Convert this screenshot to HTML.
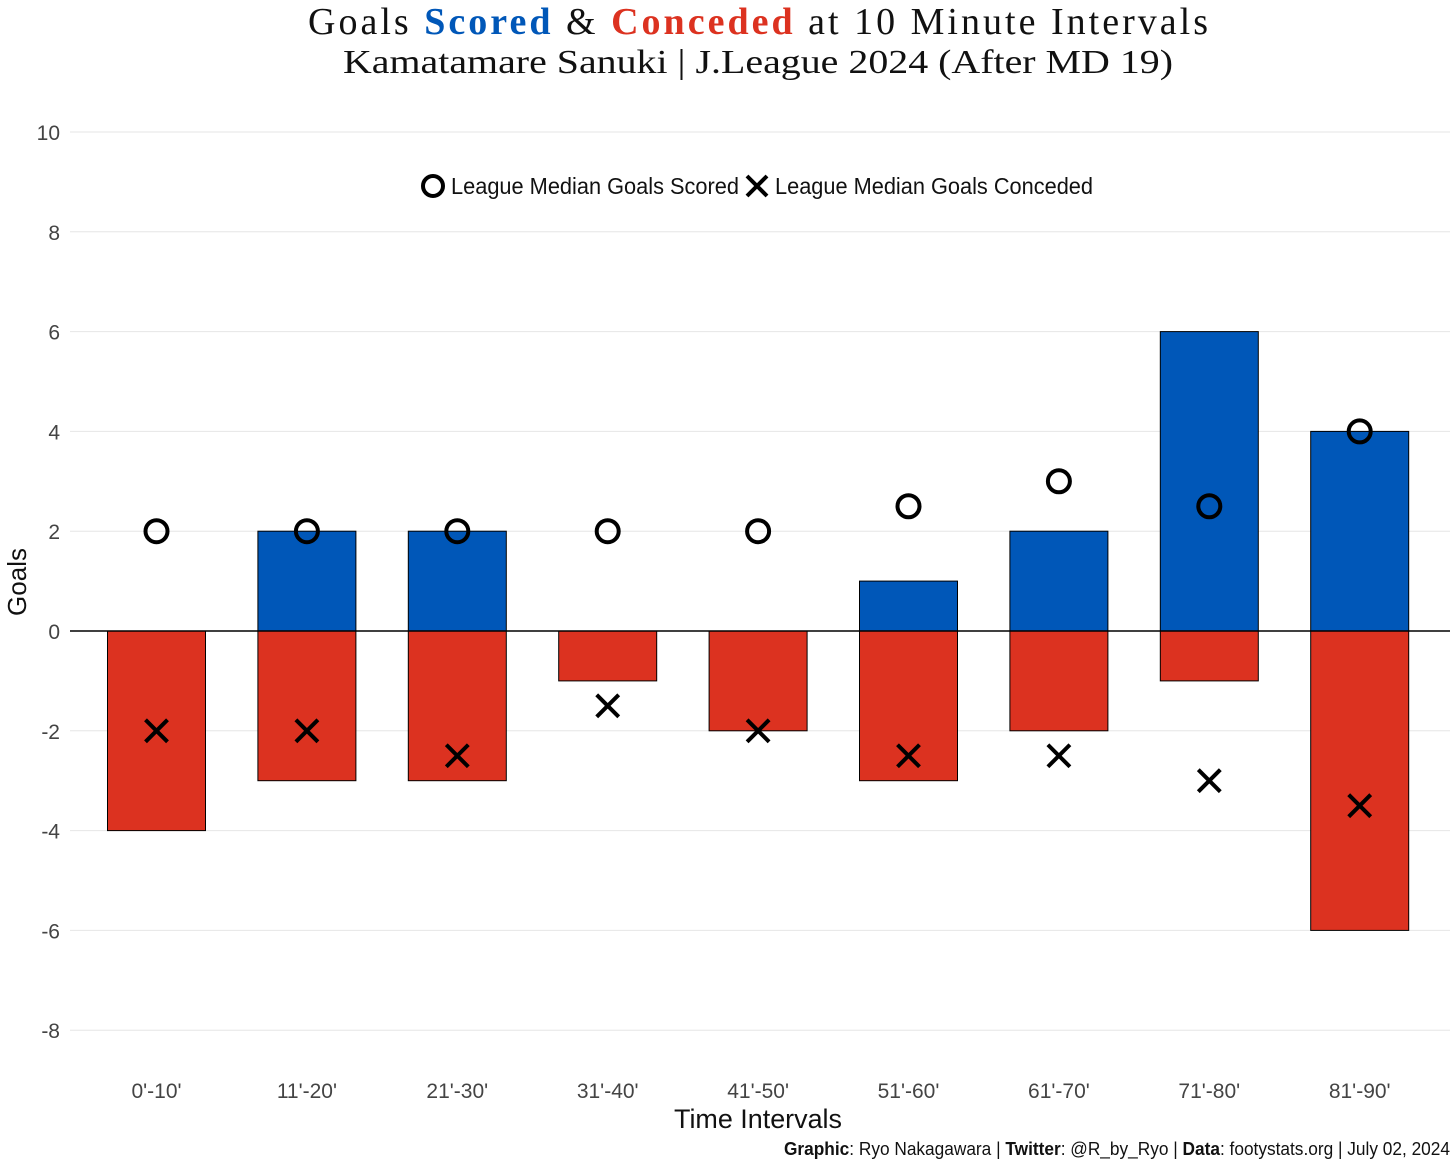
<!DOCTYPE html>
<html><head><meta charset="utf-8"><style>
html,body{margin:0;padding:0;background:#fff;}
svg{display:block;}
</style></head><body>
<svg id="chart" width="1456" height="1165" viewBox="0 0 1456 1165" xmlns="http://www.w3.org/2000/svg">
<text x="308" y="34" font-family="Liberation Serif, serif" font-size="38" fill="#111" textLength="900" lengthAdjust="spacing">Goals <tspan fill="#0057b8" font-weight="bold">Scored</tspan> &amp; <tspan fill="#dc3220" font-weight="bold">Conceded</tspan> at 10 Minute Intervals</text>
<text x="343" y="73" font-family="Liberation Serif, serif" font-size="34" fill="#111" textLength="830" lengthAdjust="spacingAndGlyphs">Kamatamare Sanuki | J.League 2024 (After MD 19)</text>
<g id="grid"></g>
<g id="bars"></g>
<g id="marks"></g>
<g>
<circle cx="433" cy="186" r="10" fill="none" stroke="#000" stroke-width="4"/>
<text x="451" y="194" font-family="Liberation Sans, sans-serif" font-size="23" fill="#111" textLength="288" lengthAdjust="spacingAndGlyphs">League Median Goals Scored</text>
<path d="M747 176 L767 196 M767 176 L747 196" stroke="#000" stroke-width="4"/>
<text x="775" y="194" font-family="Liberation Sans, sans-serif" font-size="23" fill="#111" textLength="318" lengthAdjust="spacingAndGlyphs">League Median Goals Conceded</text>
</g>
<text x="18" y="582" transform="rotate(-90 18 582)" text-anchor="middle" dy="8" font-family="Liberation Sans, sans-serif" font-size="26" fill="#111">Goals</text>
<text x="758" y="1128" text-anchor="middle" font-family="Liberation Sans, sans-serif" font-size="27" fill="#111" textLength="168" lengthAdjust="spacingAndGlyphs">Time Intervals</text>
<text x="1450" y="1155" text-anchor="end" font-family="Liberation Sans, sans-serif" font-size="18" fill="#111" textLength="666" lengthAdjust="spacingAndGlyphs"><tspan font-weight="bold">Graphic</tspan>: Ryo Nakagawara | <tspan font-weight="bold">Twitter</tspan>: @R_by_Ryo | <tspan font-weight="bold">Data</tspan>: footystats.org | July 02, 2024</text>
</svg>
<script>
const categories = ["0'-10'","11'-20'","21'-30'","31'-40'","41'-50'","51'-60'","61'-70'","71'-80'","81'-90'"];
const scored = [0,2,2,0,0,1,2,6,4];
const conceded = [-4,-3,-3,-1,-2,-3,-2,-1,-6];
const medianScored = [2,2,2,2,2,2.5,3,2.5,4];
const medianConceded = [-2,-2,-2.5,-1.5,-2,-2.5,-2.5,-3,-3.5];
const yTicks = [10,8,6,4,2,0,-2,-4,-6,-8];

const NS = "http://www.w3.org/2000/svg";
const y = v => 631 - v * 49.9;
const x = i => 156.5 + i * 150.4;
const BW = 98;
function mk(tag, attrs, parent, text) {
  const e = document.createElementNS(NS, tag);
  for (const k in attrs) e.setAttribute(k, attrs[k]);
  if (text !== undefined) e.textContent = text;
  parent.appendChild(e);
  return e;
}
const grid = document.getElementById('grid');
const bars = document.getElementById('bars');
const marks = document.getElementById('marks');

yTicks.forEach(t => {
  const l = mk('line', {x1: 70, x2: 1450, y1: y(t), y2: y(t), stroke: '#e6e6e6', 'stroke-width': 1}, grid);
  
  
  const tx = mk('text', {x: 60, y: y(t) + 8, 'text-anchor': 'end', 'font-family': 'Liberation Sans, sans-serif', 'font-size': 21, fill: '#444'}, grid, String(t));
  
  
});

categories.forEach((c, i) => {
  const tx = mk('text', {x: x(i), y: 1098, 'text-anchor': 'middle', 'font-family': 'Liberation Sans, sans-serif', 'font-size': 21, fill: '#444'}, grid, c);
  
  
  if (scored[i] !== 0) {
    const b = mk('rect', {x: x(i) - BW/2, y: y(scored[i]), width: BW, height: y(0) - y(scored[i]), fill: '#0057b8', stroke: '#000', 'stroke-width': 1}, bars);
    
    
  }
  if (conceded[i] !== 0) {
    const b = mk('rect', {x: x(i) - BW/2, y: y(0), width: BW, height: y(conceded[i]) - y(0), fill: '#dc3220', stroke: '#000', 'stroke-width': 1}, bars);
    
    
  }
  const ci = mk('circle', {cx: x(i), cy: y(medianScored[i]), r: 11, fill: 'none', stroke: '#000', 'stroke-width': 4}, marks);
  
  
  const cx = x(i), cy = y(medianConceded[i]);
  const p = mk('path', {d: `M${cx-11} ${cy-11} L${cx+11} ${cy+11} M${cx+11} ${cy-11} L${cx-11} ${cy+11}`, stroke: '#000', 'stroke-width': 4}, marks);
  
  
});
const zl = mk('line', {x1: 70, x2: 1450, y1: y(0), y2: y(0), stroke: '#000', 'stroke-width': 1.5}, bars);


</script>
</body></html>
